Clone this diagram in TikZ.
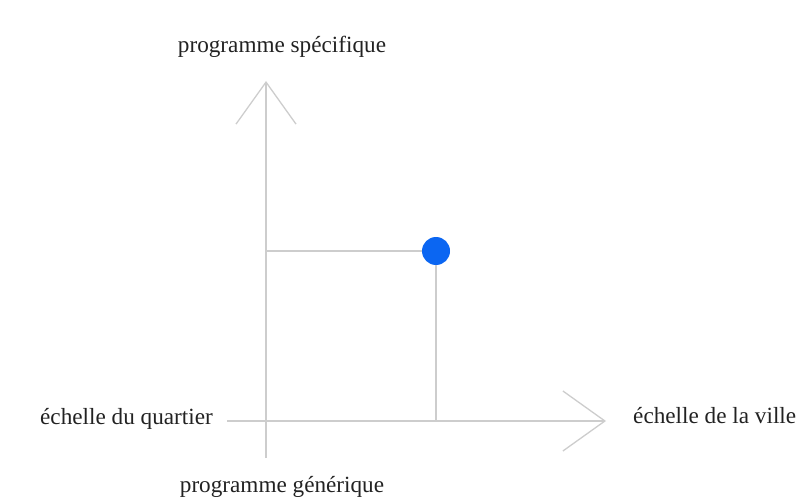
\documentclass[tikz,border=0pt]{standalone}
\usepackage{fontspec}
\setmainfont{Liberation Serif}
\usetikzlibrary{arrows.meta}
\definecolor{axisgray}{HTML}{CDCDCD}
\definecolor{dotblue}{HTML}{0B66F2}
\definecolor{lblink}{HTML}{222222}
\tikzset{
  axis/.style={draw=axisgray, line width=1.3pt, -{Straight Barb[length=42pt, width=60pt, line width=1.3pt]}},
  guide/.style={draw=axisgray, line width=1.1pt},
  spot/.style={circle, fill=dotblue, minimum size=28pt, inner sep=0pt},
  lbl/.style={font=\fontsize{23.2}{28}\selectfont, text=lblink, inner sep=0pt},
}
\begin{document}
\begin{tikzpicture}[x=1pt, y=-1pt]
  \useasboundingbox (0,0) rectangle (805,502);
  % axes
  \coordinate (ybot) at (266,458);
  \coordinate (ytop) at (266,81);
  \coordinate (xleft) at (227,421);
  \coordinate (xright) at (606,421);
  \draw[axis] (ybot) -- (ytop);
  \draw[axis] (xleft) -- (xright);
  % the point and its guides
  \coordinate (ptc) at (436,251);
  \draw[guide] (ptc) -- (ptc -| ytop);
  \draw[guide] (ptc) -- (ptc |- xleft);
  \node[spot] (pt) at (ptc) {};
  % labels
  \node[lbl, anchor=base] (spec) at (282,53) {programme spécifique};
  \node[lbl, anchor=base] (gen) at (282,492) {programme générique};
  \node[lbl, anchor=base east] (quart) at (213,424) {échelle du quartier};
  \node[lbl, anchor=base west] (ville) at (633,423) {échelle de la ville};
\end{tikzpicture}
\end{document}
